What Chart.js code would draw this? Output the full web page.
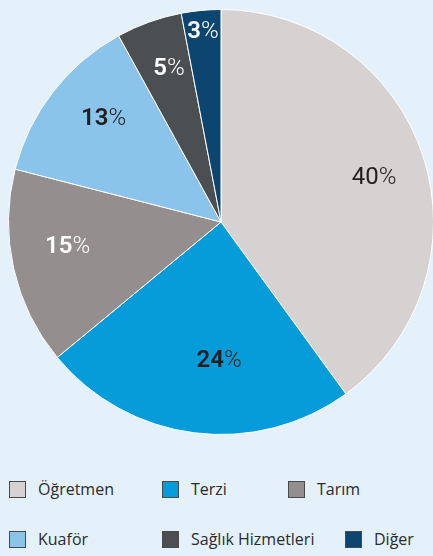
<!DOCTYPE html>
<html lang="tr">
<head>
<meta charset="utf-8">
<script src="https://cdn.jsdelivr.net/npm/chart.js@4/dist/chart.umd.min.js"></script>
<style>
  html, body { margin: 0; padding: 0; }
  body {
    width: 433px; height: 556px; overflow: hidden; position: relative;
    background: #E5F1FA;
    font-family: "Open Sans", "Noto Sans", sans-serif;
  }
  #wrap { position: absolute; left: 0; top: 0; width: 442px; height: 444px; }
  .item { position: absolute; height: 18px; line-height: 18px; font-size: 16px; color: #2b2b2b; white-space: nowrap; }
  .box { position: absolute; left: 0; top: 0; width: 15px; height: 15px; border: 1px solid #4a4a4a; }
  .txt { position: absolute; left: 29px; top: -1px; }
</style>
</head>
<body>
<div id="wrap"><canvas id="pieChart" width="442" height="444"></canvas></div>
<div id="legend"></div>
<script>
// data
const labels = ['Öğretmen', 'Terzi', 'Tarım', 'Kuaför', 'Sağlık Hizmetleri', 'Diğer'];
const values = [40, 24, 15, 13, 5, 3];

// style
const colors = ['#D6D2D1', '#069CDA', '#948F8E', '#8BC4EA', '#4C4F51', '#0B4570'];
const labelColors = ['#231F20', '#231F20', '#FFFFFF', '#231F20', '#FFFFFF', '#FFFFFF'];
const numWeights = [400, 600, 600, 600, 600, 600];
const labelRadius = [0.75, 0.654, 0.731, 0.735, 0.762, 0.898];
const labelTurn = [1.8, -6.4, 3.5, 3.5, 1.1, 0]; // degrees
const legendPos = [[9, 481], [162, 481], [288, 481], [9, 531], [162, 531], [345, 531]];

// legend
const legend = document.getElementById('legend');
labels.forEach((name, i) => {
    const item = document.createElement('div');
    item.className = 'item';
    item.style.left = legendPos[i][0] + 'px';
    item.style.top = legendPos[i][1] + 'px';
    item.innerHTML = '<span class="box" style="background:' + colors[i] + '"></span><span class="txt">' + name + '</span>';
    legend.appendChild(item);
});

// percent labels on slices
const sliceLabels = {
    id: 'sliceLabels',
    afterDatasetsDraw(chart) {
        const ctx = chart.ctx;
        const arcs = chart.getDatasetMeta(0).data;
        ctx.save();
        ctx.textBaseline = 'middle';
        ctx.textAlign = 'left';
        arcs.forEach((arc, i) => {
            const p = arc.getProps(['x', 'y', 'startAngle', 'endAngle', 'outerRadius'], true);
            const a = (p.startAngle + p.endAngle) / 2 + labelTurn[i] * Math.PI / 180;
            const r = p.outerRadius * labelRadius[i];
            const cx = p.x + Math.cos(a) * r;
            const cy = p.y + Math.sin(a) * r;
            const num = String(values[i]);
            ctx.font = numWeights[i] + ' 24px Roboto';
            const w1 = ctx.measureText(num).width;
            ctx.font = '300 24px Roboto';
            const w2 = ctx.measureText('%').width;
            const x = cx - (w1 + w2) / 2;
            ctx.fillStyle = labelColors[i];
            ctx.font = numWeights[i] + ' 24px Roboto';
            ctx.fillText(num, x, cy);
            ctx.font = '300 24px Roboto';
            ctx.fillText('%', x + w1, cy);
        });
        ctx.restore();
    }
};

// Pie Chart
new Chart(document.getElementById('pieChart'), {
    type: 'pie',
    data: {
        labels: labels,
        datasets: [{
            data: values,
            backgroundColor: colors,
            borderColor: '#FFFFFF',
            borderWidth: 1
        }]
    },
    options: {
        responsive: false,
        maintainAspectRatio: false,
        animation: false,
        layout: { padding: { left: 8, right: 8, top: 9, bottom: 9 } },
        plugins: {
            legend: { display: false },
            tooltip: { enabled: false }
        }
    },
    plugins: [sliceLabels]
});
</script>
</body>
</html>
